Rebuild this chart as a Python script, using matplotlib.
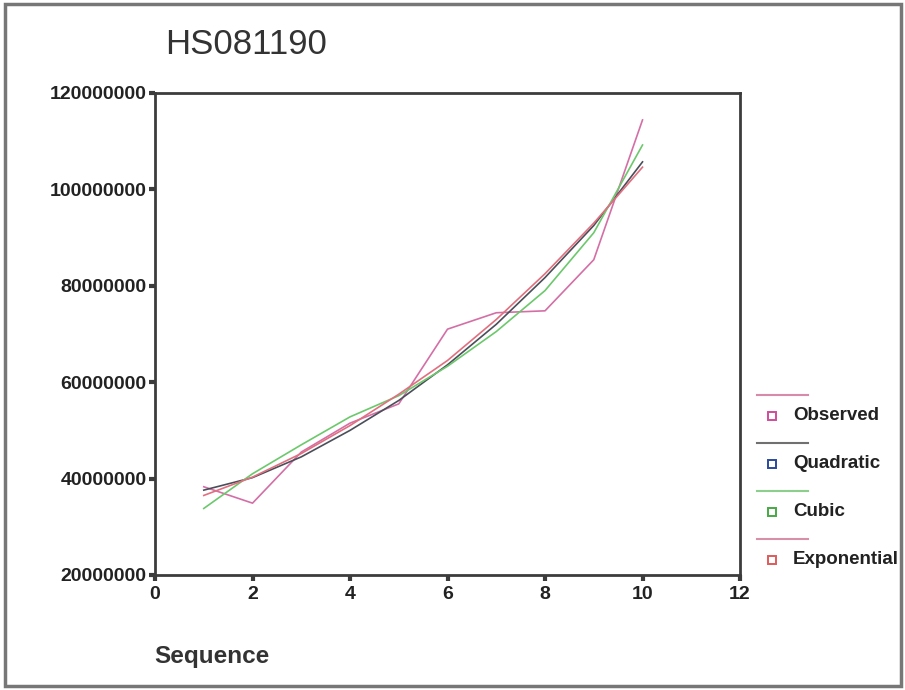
import numpy as np
import matplotlib.pyplot as plt
from matplotlib.lines import Line2D
from matplotlib.patches import Rectangle

plt.rcParams['font.family'] = ['Liberation Sans', 'DejaVu Sans']

seq = [1, 2, 3, 4, 5, 6, 7, 8, 9, 10]
observed = [38.3, 34.9, 45.5, 51.5, 55.5, 71.0, 74.4, 74.8, 85.4, 114.4]
quadratic = [37.6, 40.2, 44.5, 50.0, 56.2, 63.6, 72.0, 81.7, 92.5, 105.7]
cubic = [33.8, 41.0, 47.0, 52.8, 57.2, 63.3, 70.5, 79.0, 91.0, 109.2]
exponential = [36.5, 40.3, 45.2, 51.0, 57.5, 64.5, 73.0, 82.5, 93.0, 104.6]

names = ["Observed", "Quadratic", "Cubic", "Exponential"]
series = [observed, quadratic, cubic, exponential]
line_cols = ["#d46fa6", "#4a4f5a", "#6cc86c", "#e07080"]
legend_line_cols = ["#d88aaa", "#707070", "#8ccf8c", "#d890a8"]
box_cols = ["#d04c9c", "#2a4a9a", "#44aa44", "#e05a5a"]

yticks = [20000000, 40000000, 60000000, 80000000, 100000000, 120000000]
xticks = [0, 2, 4, 6, 8, 10, 12]

fig = plt.figure(figsize=(9.05, 6.9), dpi=100)
ax = fig.add_axes([0.1713, 0.1667, 0.6464, 0.6986])

for vals, c in zip(series, line_cols):
    ax.plot(seq, np.array(vals) * 1e6, color=c, lw=1.2)

ax.set_xlim(0, 12)
ax.set_ylim(20000000, 120000000)
ax.set_xticks(xticks)
ax.set_yticks(yticks)
ax.set_yticklabels([str(v) for v in yticks])
for s in ax.spines.values():
    s.set_color("#3c3c3c")
    s.set_linewidth(2)
ax.tick_params(colors="#3c3c3c", width=3, length=4, labelsize=14)
for lab in ax.get_xticklabels() + ax.get_yticklabels():
    lab.set_fontweight("bold")
    lab.set_color("#222222")
ax.tick_params(axis="x", pad=4)
ax.tick_params(axis="y", pad=2)

fig.text(0.182, 0.935, "HS081190", fontsize=25, color="#333333", va="center", ha="left")
fig.text(0.171, 0.048, "Sequence", fontsize=17.5, fontweight="bold", color="#333333",
         va="center", ha="left")

# legend drawn outside the axes
for i, (nm, lc, bc) in enumerate(zip(names, legend_line_cols, box_cols)):
    ly = 1 - (395 + 48 * i) / 690
    by = 1 - (416 + 48 * i) / 690
    fig.add_artist(Line2D([757 / 905, 808 / 905], [ly, ly], color=lc, lw=1.5))
    fig.add_artist(Line2D([772 / 905], [by], marker="s", ms=5.5, mfc="white",
                          mec=bc, mew=1.4, ls="none"))
    fig.text(793 / 905, by, nm, fontsize=13.5, fontweight="bold", color="#222222", va="center")

fig.add_artist(Rectangle((0.006, 0.006), 0.99, 0.988, fill=False, ec="#777777", lw=2.5,
                         transform=fig.transFigure))

fig.savefig("out.png", dpi=100)
